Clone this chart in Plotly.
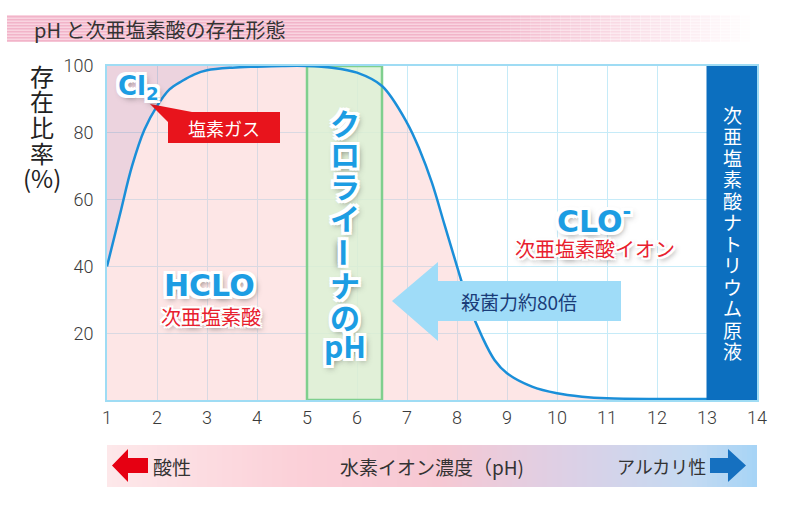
import plotly.graph_objects as go

# share of HClO (%) against pH
ph = [1, 1.25, 1.5, 1.75, 2, 2.25, 2.5, 2.75, 3, 3.5, 4, 4.5, 5, 5.5, 6, 6.5,
      7, 7.25, 7.5, 7.75, 8, 8.25, 8.5, 8.75, 9, 9.5, 10, 10.5, 11, 12, 13]
hclo = [40, 55, 70, 81, 88, 93, 95.5, 97.5, 98.7, 99.5, 99.8, 100, 100, 99.5, 98, 94,
        83, 75, 65, 52.5, 40, 28, 19, 12, 8, 4, 2, 1, 0.5, 0.3, 0.3]

# part of the curve where Cl2 sits above it
cl2_end = 10
ph_cl2 = ph[:cl2_end]
hclo_cl2 = hclo[:cl2_end]
top_cl2 = [100] * cl2_end

# bands
chlorina_ph = [5, 6.5]       # クロライーナのpH
sodium_ph = [13, 14]         # 次亜塩素酸ナトリウム原液

x_ticks = list(range(1, 15))
y_ticks = [20, 40, 60, 80, 100]

title = "pH と次亜塩素酸の存在形態"
y_title = ["存", "在", "比", "率", "(%)"]
chlorina_chars = ["ク", "ロ", "ラ", "イ", "ー", "ナ", "の", "pH"]
sodium_chars = list("次亜塩素酸ナトリウム原液")

# pixel frame of the plot area
L, R, T, B = 107, 757, 66, 400
W, H = 800, 510


def fx(p):
    return (p - L) / (R - L)


def fy(p):
    return (B - p) / (B - T)


JP = "Noto Sans CJK JP"
BLUE = "#1c9de3"
RED = "#e8202e"


def outline(w, blur):
    s = []
    for dx in (-w, 0, w):
        for dy in (-w, 0, w):
            if dx or dy:
                s.append(f"{dx}px {dy}px 0 #fff")
    s.append(f"2px 3px {blur}px rgba(60,60,60,0.75)")
    return ", ".join(s)


def label(x, y, text, font, xref="paper", **kw):
    d = dict(xref=xref, yref="paper", x=x, y=y, text=text, showarrow=False,
             xanchor="center", yanchor="middle", font=font)
    d.update(kw)
    return d


fig = go.Figure()

# HClO area under the curve
fig.add_trace(go.Scatter(x=ph, y=hclo, mode="lines", line=dict(width=0, shape="spline"),
                         fill="tozeroy", fillcolor="rgba(250,190,190,0.38)"))
# Cl2 area above the curve
fig.add_trace(go.Scatter(x=ph_cl2, y=top_cl2, mode="lines", line=dict(width=0)))
fig.add_trace(go.Scatter(x=ph_cl2, y=hclo_cl2, mode="lines", line=dict(width=0, shape="spline"),
                         fill="tonexty", fillcolor="rgba(200,130,160,0.35)"))
# chlorina band
lo, hi = chlorina_ph
fig.add_trace(go.Scatter(x=[lo, hi, hi, lo, lo], y=[0, 0, 100, 100, 0], mode="lines",
                         line=dict(color="#7fcf8e", width=2.5),
                         fill="toself", fillcolor="rgba(218,242,212,0.82)"))
# the curve
fig.add_trace(go.Scatter(x=ph, y=hclo, mode="lines",
                         line=dict(color="#1a8fd9", width=2.5, shape="spline")))

shapes = []
annotations = []

# title band: pink stripes fading to white
shapes.append(dict(type="rect", xref="paper", yref="paper", x0=fx(7), x1=fx(800),
                   y0=fy(42), y1=fy(15), fillcolor="#f9d4e0", line_width=0, layer="below"))
for yy in range(16, 42, 3):
    shapes.append(dict(type="rect", xref="paper", yref="paper", x0=fx(7), x1=fx(800),
                       y0=fy(yy + 1.5), y1=fy(yy), fillcolor="#f2b4c9", line_width=0, layer="below"))
n = 32
for i in range(n):
    x0 = 480 + i * 10
    shapes.append(dict(type="rect", xref="paper", yref="paper", x0=fx(x0), x1=fx(x0 + 10.5),
                       y0=fy(43), y1=fy(14), fillcolor="white", opacity=min(1, (i + 1) / (n - 4)),
                       line_width=0, layer="below"))
annotations.append(label(fx(32), fy(29), title, dict(family=JP, size=20, color="#333"),
                         xanchor="left"))

# bottom gradient band
stops = [(107, (253, 232, 234)), (300, (251, 208, 216)), (440, (246, 200, 211)),
         (570, (220, 208, 230)), (690, (196, 218, 242)), (757, (166, 212, 246))]


def band_color(x):
    for (xa, ca), (xb, cb) in zip(stops[:-1], stops[1:]):
        if xa <= x <= xb:
            t = (x - xa) / (xb - xa)
            c = [round(a + (b - a) * t) for a, b in zip(ca, cb)]
            return "rgb(%d,%d,%d)" % tuple(c)
    return "rgb(%d,%d,%d)" % stops[-1][1]


step = 5
for x0 in range(107, 757, step):
    shapes.append(dict(type="rect", xref="paper", yref="paper", x0=fx(x0), x1=fx(min(x0 + step + 0.6, 757)),
                       y0=fy(487), y1=fy(445), fillcolor=band_color(x0 + step / 2), line_width=0))


def poly(pts):
    return "M " + " L ".join(f"{fx(a):.5f},{fy(b):.5f}" for a, b in pts) + " Z"


# red and blue arrows in the band
shapes.append(dict(type="path", xref="paper", yref="paper", fillcolor="#e60012", line_width=0,
                   path=poly([(112, 465.5), (128, 449), (128, 458), (148, 458), (148, 473),
                              (128, 473), (128, 482)])))
shapes.append(dict(type="path", xref="paper", yref="paper", fillcolor="#1570c0", line_width=0,
                   path=poly([(746, 465.5), (728, 449), (728, 458), (710, 458), (710, 473),
                              (728, 473), (728, 482)])))
for txt, xc, sz in [("酸性", 172, 19), ("水素イオン濃度（pH)", 432, 19), ("アルカリ性", 661, 18)]:
    annotations.append(label(fx(xc), fy(466), txt, dict(family=JP, size=sz, color="#333")))

# sodium hypochlorite box
shapes.append(dict(type="rect", xref="x", yref="y", x0=sodium_ph[0], x1=sodium_ph[1], y0=0, y1=100,
                   fillcolor="#0c6fbf", line=dict(color="#0c6fbf", width=1), layer="above"))
for i, ch in enumerate(sodium_chars):
    annotations.append(label(sum(sodium_ph) / 2, fy(114 + i * 21.5), ch,
                             dict(family=JP, size=19, color="white"), xref="x"))

# light blue arrow: 殺菌力約80倍
shapes.append(dict(type="path", xref="paper", yref="paper", fillcolor="#9fdcf8", line_width=0,
                   layer="above",
                   path=poly([(392, 301), (438, 262), (438, 281), (621, 281), (621, 321),
                              (438, 321), (438, 341)])))
annotations.append(label(fx(519), fy(301), "殺菌力約80倍", dict(family=JP, size=19, color="#1a3c78")))

# red callout 塩素ガス
shapes.append(dict(type="path", xref="paper", yref="paper", fillcolor="#e8141c", line_width=0,
                   layer="above",
                   path=poly([(150, 104), (192, 112), (280, 112), (280, 143), (168, 143),
                              (168, 122)])))
annotations.append(label(fx(224), fy(128), "塩素ガス", dict(family=JP, size=18, color="white")))

# species labels
big = dict(family="DejaVu Sans", size=30, color=BLUE, weight="bold", shadow=outline(3, 6))
red_small = dict(family=JP, size=20, color=RED, shadow=outline(2, 5))
annotations += [
    label(fx(138), fy(87), "Cl<sub>2</sub>", dict(big, size=26)),
    label(fx(209), fy(285), "HCLO", big),
    label(fx(211), fy(316), "次亜塩素酸", red_small),
    label(fx(594), fy(219), "CLO<sup>-</sup>", big),
    label(fx(595), fy(249), "次亜塩素酸イオン", red_small),
]

# vertical クロライーナのpH
cy = [122, 153, 185, 217, 252, 284, 316, 345]
for ch, yy in zip(chlorina_chars, cy):
    annotations.append(label(sum(chlorina_ph) / 2, fy(yy), ch,
                             dict(family=JP, size=30, color=BLUE, weight="bold", shadow=outline(3, 6)),
                             xref="x", textangle=90 if ch == "ー" else 0))

# y axis title, stacked
for i, ch in enumerate(y_title):
    annotations.append(label(fx(42), fy(75 + i * 25.7), ch, dict(family=JP, size=24, color="#222")))

fig.update_layout(
    width=W, height=H,
    margin=dict(l=L, r=W - R, t=T, b=H - B),
    paper_bgcolor="white", plot_bgcolor="white",
    showlegend=False, hovermode=False,
    shapes=shapes, annotations=annotations,
    xaxis=dict(range=[1, 14], tickvals=x_ticks, showgrid=True, gridcolor="#c6ebf8", gridwidth=1,
               showline=True, mirror=True, linecolor="#9fdcf4", linewidth=2, zeroline=False,
               ticks="", tickfont=dict(family="Roboto", size=18, color="#3a3a3a", weight=300)),
    yaxis=dict(range=[0, 100], tickvals=y_ticks, showgrid=True, gridcolor="#c6ebf8", gridwidth=1,
               showline=True, mirror=True, linecolor="#9fdcf4", linewidth=2, zeroline=False,
               ticks="", ticklabelstandoff=8,
               tickfont=dict(family="Roboto", size=18, color="#3a3a3a", weight=300)),
)

# drop the page's default body margin so the figure sits at the window's corner
fig.write_html("out.html", config={"displayModeBar": False},
               post_script="document.body.style.margin='0';")
